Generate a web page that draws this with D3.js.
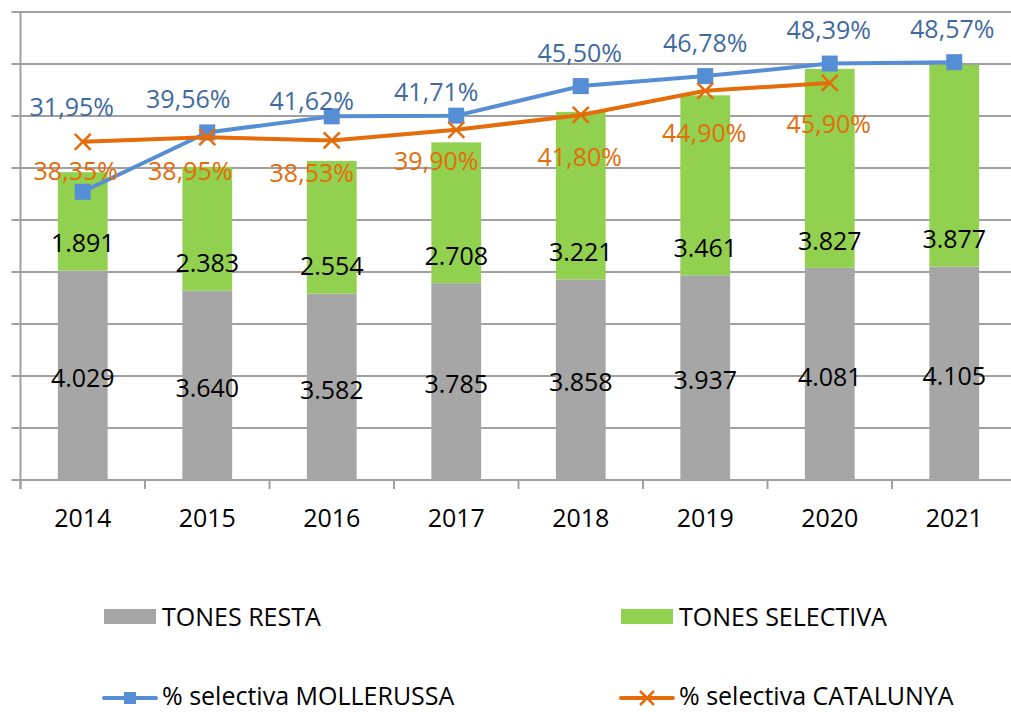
<!DOCTYPE html>
<html>
<head>
<meta charset="utf-8">
<script src="https://cdn.jsdelivr.net/npm/d3@7"></script>
<style>
  body { margin: 0; background: #fff; }
  svg { display: block; font-family: "Open Sans", "Noto Sans", sans-serif; }
</style>
</head>
<body>
<div id="graphic"></div>
<script>
// data
var years = ["2014", "2015", "2016", "2017", "2018", "2019", "2020", "2021"];
var tonesResta = [4029, 3640, 3582, 3785, 3858, 3937, 4081, 4105];
var tonesSelectiva = [1891, 2383, 2554, 2708, 3221, 3461, 3827, 3877];
var pctMollerussa = [31.95, 39.56, 41.62, 41.71, 45.50, 46.78, 48.39, 48.57];
var pctCatalunya = [38.35, 38.95, 38.53, 39.90, 41.80, 44.90, 45.90];

// label nudges (layout only), as placed by hand in the original
var blueShift = [[-11, -85], [-19, -33], [-20, -15], [-20, -23], [-1, -33], [0, -33], [-1, -33], [-2, -33]];
var orangeShift = [[-7, 29], [-17, 34], [-20, 33], [-20, 31], [-1, 42], [-1, 42], [-1, 41]];

var W = 1011, H = 712;
var plotLeft = 20.5, plotRight = 1016.5, plotTop = 12, plotBottom = 480;
var fontSize = "25px";

var loc = d3.formatLocale({decimal: ",", thousands: ".", grouping: [3], currency: ["", "€"]});
var fmtInt = loc.format(",d");
var fmtPct = function(v) { return loc.format(".2f")(v) + "%"; };

var svg = d3.select("#graphic").append("svg")
    .attr("width", W)
    .attr("height", H);

var x = d3.scaleBand()
    .domain(years)
    .range([plotLeft, plotRight])
    .paddingInner(0.6)
    .paddingOuter(0.3);

var y = d3.scaleLinear().domain([0, 9000]).range([plotBottom, plotTop]);
// hidden secondary axis for the percentages
var y2 = d3.scaleLinear().domain([-5, 55]).range([plotBottom, plotTop]);

// gridlines (with little outside ticks on the left)
svg.append("g")
  .selectAll("line")
  .data(y.ticks(9))
  .enter().append("line")
    .attr("x1", plotLeft - 9)
    .attr("x2", W)
    .attr("y1", function(d) { return Math.round(y(d)); })
    .attr("y2", function(d) { return Math.round(y(d)); })
    .style("stroke", "#a0a0a0")
    .style("stroke-width", 2);

// y axis line
svg.append("line")
    .attr("x1", plotLeft).attr("x2", plotLeft)
    .attr("y1", plotTop).attr("y2", plotBottom + 9)
    .style("stroke", "#a0a0a0")
    .style("stroke-width", 2);

// category ticks between bands
svg.append("g")
  .selectAll("line")
  .data(d3.range(years.length + 1))
  .enter().append("line")
    .attr("x1", function(i) { return plotLeft + i * x.step(); })
    .attr("x2", function(i) { return plotLeft + i * x.step(); })
    .attr("y1", plotBottom)
    .attr("y2", plotBottom + 9)
    .style("stroke", "#a0a0a0")
    .style("stroke-width", 2);

// category labels
svg.append("g")
  .selectAll("text")
  .data(years)
  .enter().append("text")
    .attr("x", function(d) { return x(d) + x.bandwidth() / 2; })
    .attr("y", 518)
    .attr("dy", "0.35em")
    .attr("text-anchor", "middle")
    .style("font-size", fontSize)
    .style("fill", "#000")
    .text(function(d) { return d; });

// stacked bars
var rows = years.map(function(yr, i) {
  return {year: yr, resta: tonesResta[i], selectiva: tonesSelectiva[i]};
});

svg.append("g")
  .selectAll("rect")
  .data(rows)
  .enter().append("rect")
    .attr("x", function(d) { return x(d.year); })
    .attr("width", x.bandwidth())
    .attr("y", function(d) { return y(d.resta); })
    .attr("height", function(d) { return y(0) - y(d.resta); })
    .style("fill", "#a6a6a6");

svg.append("g")
  .selectAll("rect")
  .data(rows)
  .enter().append("rect")
    .attr("x", function(d) { return x(d.year); })
    .attr("width", x.bandwidth())
    .attr("y", function(d) { return y(d.resta + d.selectiva); })
    .attr("height", function(d) { return y(d.resta) - y(d.resta + d.selectiva); })
    .style("fill", "#92d050");

// bar labels
svg.append("g")
  .selectAll("text")
  .data(rows)
  .enter().append("text")
    .attr("x", function(d) { return x(d.year) + x.bandwidth() / 2; })
    .attr("y", function(d) { return (y(0) + y(d.resta)) / 2 + 3; })
    .attr("dy", "0.35em")
    .attr("text-anchor", "middle")
    .style("font-size", fontSize)
    .style("fill", "#000")
    .text(function(d) { return fmtInt(d.resta); });

svg.append("g")
  .selectAll("text")
  .data(rows)
  .enter().append("text")
    .attr("x", function(d) { return x(d.year) + x.bandwidth() / 2; })
    .attr("y", function(d) { return y(d.resta) - 27; })
    .attr("dy", "0.35em")
    .attr("text-anchor", "middle")
    .style("font-size", fontSize)
    .style("fill", "#000")
    .text(function(d) { return fmtInt(d.selectiva); });

// lines
var cx = function(i) { return x(years[i]) + x.bandwidth() / 2; };
var line = d3.line()
    .x(function(d, i) { return cx(i); })
    .y(function(d) { return y2(d); });

svg.append("path")
    .datum(pctMollerussa)
    .attr("d", line)
    .style("fill", "none")
    .style("stroke", "#558ed5")
    .style("stroke-width", 4)
    .style("stroke-linejoin", "round");

svg.append("g")
  .selectAll("rect")
  .data(pctMollerussa)
  .enter().append("rect")
    .attr("x", function(d, i) { return cx(i) - 8; })
    .attr("y", function(d) { return y2(d) - 8; })
    .attr("width", 16)
    .attr("height", 16)
    .style("fill", "#558ed5");

svg.append("path")
    .datum(pctCatalunya)
    .attr("d", line)
    .style("fill", "none")
    .style("stroke", "#e46c0a")
    .style("stroke-width", 4)
    .style("stroke-linejoin", "round");

svg.append("g")
  .selectAll("path")
  .data(pctCatalunya)
  .enter().append("path")
    .attr("d", "M-8,-8L8,8M-8,8L8,-8")
    .attr("transform", function(d, i) { return "translate(" + cx(i) + "," + y2(d) + ")"; })
    .style("stroke", "#e46c0a")
    .style("stroke-width", 2.5)
    .style("fill", "none");

// percentage labels
svg.append("g")
  .selectAll("text")
  .data(pctMollerussa)
  .enter().append("text")
    .attr("x", function(d, i) { return cx(i) + blueShift[i][0]; })
    .attr("y", function(d, i) { return y2(d) + blueShift[i][1]; })
    .attr("dy", "0.35em")
    .attr("text-anchor", "middle")
    .style("font-size", fontSize)
    .style("fill", "#3f6a9e")
    .text(fmtPct);

svg.append("g")
  .selectAll("text")
  .data(pctCatalunya)
  .enter().append("text")
    .attr("x", function(d, i) { return cx(i) + orangeShift[i][0]; })
    .attr("y", function(d, i) { return y2(d) + orangeShift[i][1]; })
    .attr("dy", "0.35em")
    .attr("text-anchor", "middle")
    .style("font-size", fontSize)
    .style("fill", "#e46c0a")
    .text(fmtPct);

// legend
var legend = svg.append("g").style("font-size", fontSize);

legend.append("rect").attr("x", 104).attr("y", 609).attr("width", 52).attr("height", 15).style("fill", "#a6a6a6");
legend.append("text").attr("x", 162).attr("y", 617).attr("dy", "0.35em").text("TONES RESTA");

legend.append("rect").attr("x", 621).attr("y", 609).attr("width", 52).attr("height", 15).style("fill", "#92d050");
legend.append("text").attr("x", 679).attr("y", 617).attr("dy", "0.35em").text("TONES SELECTIVA");

legend.append("line").attr("x1", 104).attr("x2", 156).attr("y1", 698).attr("y2", 698)
    .style("stroke", "#558ed5").style("stroke-width", 4).style("stroke-linecap", "round");
legend.append("rect").attr("x", 124).attr("y", 692).attr("width", 12).attr("height", 12).style("fill", "#558ed5");
legend.append("text").attr("x", 162).attr("y", 696).attr("dy", "0.35em").text("% selectiva MOLLERUSSA");

legend.append("line").attr("x1", 621).attr("x2", 673).attr("y1", 698).attr("y2", 698)
    .style("stroke", "#e46c0a").style("stroke-width", 4).style("stroke-linecap", "round");
legend.append("path").attr("d", "M-7,-7L7,7M-7,7L7,-7").attr("transform", "translate(647,698)")
    .style("stroke", "#e46c0a").style("stroke-width", 2.5);
legend.append("text").attr("x", 679).attr("y", 696).attr("dy", "0.35em").text("% selectiva CATALUNYA");
</script>
</body>
</html>
